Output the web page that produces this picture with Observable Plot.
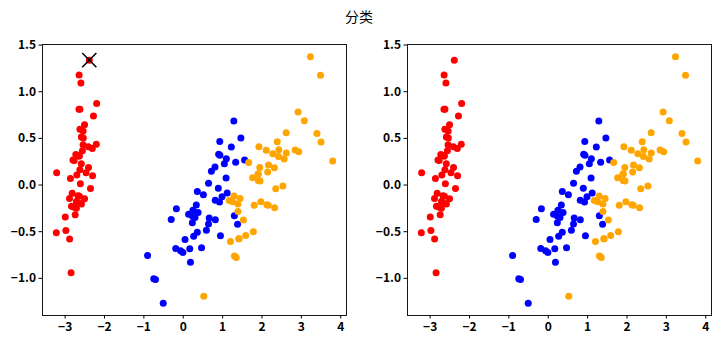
<!DOCTYPE html>
<html>
<head>
<meta charset="utf-8">
<script src="https://cdn.jsdelivr.net/npm/d3@7"></script>
<script src="https://cdn.jsdelivr.net/npm/@observablehq/plot@0.6"></script>
<style>
  html, body { margin: 0; padding: 0; background: #fff; }
  #title { height: 30px; line-height: 32px; text-align: center; font-family: "Noto Sans CJK SC", sans-serif; font-size: 14px; color: #000; width: 718px; }
  #row { display: flex; width: 718px; }
  svg { display: block; }
</style>
</head>
<body>
<div id="title">分类</div>
<div id="row"></div>
<script>
// PCA coordinates (PC1, PC2) per class
const setosaX = [-2.684,-2.714,-2.889,-2.745,-2.729,-2.281,-2.821,-2.626,-2.886,-2.673,-2.507,-2.613,-2.786,-3.224,-2.645,-2.386,-2.624,-2.648,-2.200,-2.588,-2.310,-2.544,-3.216,-2.303,-2.356,-2.507,-2.469,-2.562,-2.640,-2.632,-2.587,-2.410,-2.649,-2.599,-2.637,-2.866,-2.625,-2.801,-2.981,-2.590,-2.770,-2.849,-2.997,-2.406,-2.209,-2.714,-2.538,-2.839,-2.543,-2.703];
const setosaY = [0.319,-0.177,-0.145,-0.318,0.327,0.741,-0.089,0.163,-0.578,-0.114,0.645,0.015,-0.235,-0.511,1.179,1.338,0.811,0.312,0.873,0.514,0.391,0.433,0.133,0.099,-0.037,-0.146,0.131,0.368,0.312,-0.197,-0.204,0.411,0.813,1.093,-0.121,0.069,0.599,0.269,-0.488,0.229,0.264,-0.941,-0.342,0.189,0.437,-0.250,0.504,-0.228,0.579,0.108];
const versicolorX = [1.285,0.932,1.464,0.183,1.088,0.642,1.095,-0.749,1.044,-0.009,-0.508,0.512,0.265,0.985,-0.174,0.928,0.660,0.236,0.945,0.045,1.116,0.358,1.298,0.922,0.715,0.900,1.332,1.558,0.813,-0.306,-0.068,-0.190,0.136,1.380,0.588,0.807,1.221,0.815,0.246,0.166,0.465,0.891,0.231,-0.705,0.357,0.332,0.376,0.643,-0.906,0.299];
const versicolorY = [0.685,0.318,0.504,-0.828,0.075,-0.418,0.283,-1.005,0.228,-0.723,-1.266,-0.104,-0.550,-0.125,-0.255,0.467,-0.353,-0.334,-0.543,-0.584,-0.085,-0.069,-0.328,-0.183,0.149,0.329,0.244,0.267,-0.163,-0.368,-0.705,-0.680,-0.314,-0.421,-0.484,0.194,0.408,-0.372,-0.269,-0.682,-0.671,-0.034,-0.404,-1.012,-0.505,-0.213,-0.293,0.018,-0.756,-0.349];
const virginicaX = [2.531,1.415,2.617,1.972,2.350,3.397,0.521,2.933,2.321,2.917,1.662,1.803,2.166,1.346,1.586,1.904,1.950,3.487,3.796,1.301,2.428,1.199,3.500,1.389,2.275,2.614,1.259,1.291,2.124,2.388,2.842,3.231,2.159,1.444,1.781,3.076,2.144,1.905,1.169,2.108,2.314,1.922,1.415,2.563,2.419,1.944,1.527,1.764,1.901,1.390];
const virginicaY = [-0.010,-0.575,0.344,-0.180,-0.040,0.551,-1.193,0.356,-0.244,0.783,0.242,-0.216,0.216,-0.777,-0.540,0.119,0.042,1.176,0.257,-0.761,0.378,-0.606,0.461,-0.204,0.335,0.561,-0.180,-0.117,-0.210,0.465,0.375,1.374,-0.217,-0.143,-0.500,0.688,0.140,0.049,-0.165,0.372,0.184,0.409,-0.575,0.278,0.305,0.188,-0.375,0.079,0.117,-0.283];
const classNames = ["setosa", "versicolor", "virginica"];
const classColors = ["red", "blue", "orange"];
const xTicks = [-3, -2, -1, 0, 1, 2, 3, 4];
const yTicks = [-1.0, -0.5, 0.0, 0.5, 1.0, 1.5];
// highlighted sample (marked with ×)
const markX = [-2.386];
const markY = [1.338];

const pts = [];
[[setosaX, setosaY], [versicolorX, versicolorY], [virginicaX, virginicaY]].forEach(([xs, ys], k) => {
  xs.forEach((x, i) => pts.push({x, y: ys[i], cls: classNames[k]}));
});
const marks = markX.map((x, i) => ({x, y: markY[i]}));

const allX = pts.map(d => d.x), allY = pts.map(d => d.y);
const pad = (lo, hi) => { const m = (hi - lo) * 0.05; return [lo - m, hi + m]; };
const xDom = pad(d3.min(allX), d3.max(allX));
const yDom = pad(d3.min(allY), d3.max(allY));

function panel(ml, mr, withMark) {
  const m = [
    Plot.frame({stroke: "black", strokeWidth: 0.9}),
    Plot.dot(pts, {x: "x", y: "y", fill: "cls", r: 3.5}),
    Plot.axisX({ticks: xTicks, tickSize: 3.5, tickPadding: 3, tickFormat: d3.format("d"), fontSize: 12, fontWeight: 600, label: null}),
    Plot.axisY({ticks: yTicks, tickSize: 3.5, tickPadding: 3, tickFormat: d3.format(".1f"), fontSize: 12, fontWeight: 600, label: null})
  ];
  if (withMark) m.push(Plot.dot(marks, {x: "x", y: "y", symbol: "times", r: 6.5, stroke: "black", strokeWidth: 1.5}));
  return Plot.plot({
    width: 359, height: 312,
    marginLeft: ml, marginRight: mr, marginTop: 14, marginBottom: 27,
    style: {fontFamily: "'Noto Sans CJK SC', sans-serif", color: "black", background: "white"},
    x: {domain: xDom},
    y: {domain: yDom},
    color: {domain: classNames, range: classColors},
    marks: m
  });
}
const row = document.getElementById("row");
row.appendChild(panel(42, 13, true));
row.appendChild(panel(48, 7, false));
</script>
</body>
</html>
